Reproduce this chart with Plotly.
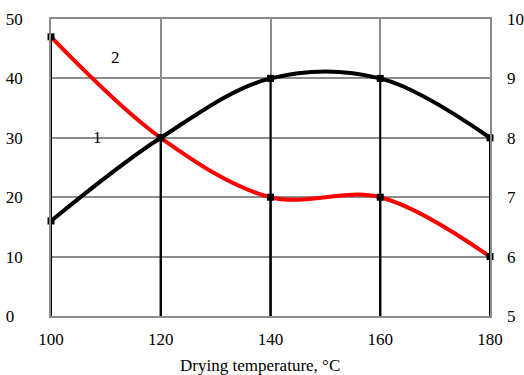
import plotly.graph_objects as go

# Data
temperature = [100, 120, 140, 160, 180]
curve1_right = [6.6, 8.0, 9.0, 9.0, 8.0]   # black curve (1), right axis
curve2_left = [47, 30, 20, 20, 10]          # red curve (2), left axis
left_ticks = [0, 10, 20, 30, 40, 50]
right_ticks = [5, 6, 7, 8, 9, 10]
x_ticks = [100, 120, 140, 160, 180]

FONT = "Liberation Serif, Times New Roman, serif"
GRID = "#8c8c8c"
FS = 17

fig = go.Figure()

# drop lines (black verticals from the bottom up to each point)
def drops(xs, ys, base):
    dx, dy = [], []
    for x, y in zip(xs, ys):
        dx += [x, x, None]
        dy += [base, y, None]
    return dx, dy

dx, dy = drops(temperature, curve2_left, left_ticks[0])
fig.add_trace(go.Scatter(x=dx, y=dy, mode="lines", line=dict(color="black", width=2),
                         hoverinfo="skip", showlegend=False, yaxis="y", cliponaxis=False))
dx2, dy2 = drops(temperature, curve1_right, right_ticks[0])
fig.add_trace(go.Scatter(x=dx2, y=dy2, mode="lines", line=dict(color="black", width=2),
                         hoverinfo="skip", showlegend=False, yaxis="y2", cliponaxis=False))

fig.add_trace(go.Scatter(x=temperature, y=curve2_left, mode="lines+markers",
                         line=dict(color="#ff0000", width=4, shape="spline", smoothing=1),
                         marker=dict(symbol="square", size=7, color="black"),
                         showlegend=False, yaxis="y", cliponaxis=False))
fig.add_trace(go.Scatter(x=temperature, y=curve1_right, mode="lines+markers",
                         line=dict(color="black", width=4, shape="spline", smoothing=1),
                         marker=dict(symbol="square", size=7, color="black"),
                         showlegend=False, yaxis="y2", cliponaxis=False))

fig.add_annotation(x=108.5, y=30, text="1", showarrow=False, xref="x", yref="y",
                   font=dict(family=FONT, size=FS, color="black"))
fig.add_annotation(x=111.8, y=43.6, text="2", showarrow=False, xref="x", yref="y",
                   font=dict(family=FONT, size=FS, color="black"))
fig.add_annotation(x=0.477, y=-0.165, xref="paper", yref="paper", yanchor="middle",
                   text="Drying temperature, °C", showarrow=False,
                   font=dict(family=FONT, size=FS, color="black"))

fig.update_layout(
    width=524, height=375,
    margin=dict(l=51, r=34, t=19, b=59),
    paper_bgcolor="white", plot_bgcolor="white",
    font=dict(family=FONT, size=FS, color="black"),
    xaxis=dict(range=[100, 180], tickvals=x_ticks, showgrid=True, gridcolor=GRID,
               gridwidth=1.5, zeroline=False, showline=True, linecolor=GRID,
               linewidth=1.5, mirror=True, ticks="", ticklabelstandoff=7,
               automargin=False),
    yaxis=dict(range=[0, 50], tickvals=left_ticks,
               ticktext=[("%d" % v) + ("\u2007" if v < 10 else "") for v in left_ticks],
               showgrid=True, gridcolor=GRID, gridwidth=1.5, zeroline=False,
               showline=True, linecolor=GRID, linewidth=1.5, mirror=True, ticks="",
               ticklabelstandoff=23, automargin=False),
    yaxis2=dict(range=[5, 10], tickvals=right_ticks, overlaying="y", side="right",
                showgrid=False, zeroline=False, showline=False, ticks="",
                ticklabelstandoff=16, automargin=False),
)

fig.write_html("out.html")
